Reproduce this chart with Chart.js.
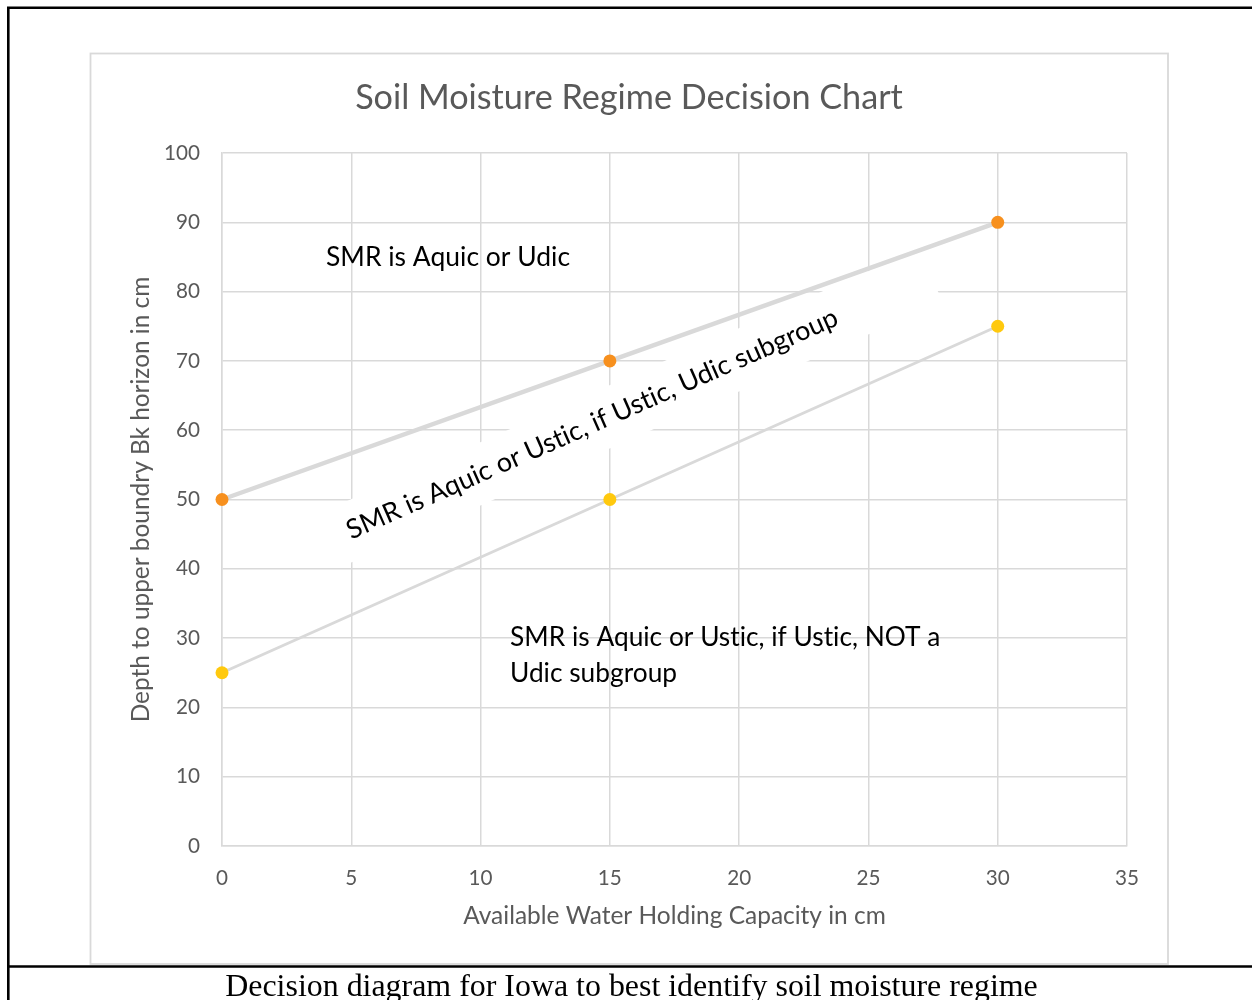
<!DOCTYPE html>
<html><head><meta charset="utf-8">
<script src="https://cdn.jsdelivr.net/npm/chart.js@4.4.1/dist/chart.umd.min.js"></script>
<style>html,body{margin:0;padding:0;background:#fff;}#wrap{width:1252px;height:1000px;position:relative;}canvas{display:block;}</style>
</head><body><div id="wrap"><canvas id="c" width="1252" height="1000"></canvas></div>
<script>
// ---------- data ----------
const xUpper = [0, 15, 30];
const yUpper = [50, 70, 90];
const xLower = [0, 15, 30];
const yLower = [25, 50, 75];
const xTicks = [0, 5, 10, 15, 20, 25, 30, 35];
const yTicks = [0, 10, 20, 30, 40, 50, 60, 70, 80, 90, 100];
const chartTitle = 'Soil Moisture Regime Decision Chart';
const xAxisTitle = 'Available Water Holding Capacity in cm';
const yAxisTitle = 'Depth to upper boundry Bk horizon in cm';
const captionText = 'Decision diagram for Iowa to best identify soil moisture regime';
const noteTop = ['SMR is Aquic or Udic'];
const noteMiddle = 'SMR is Aquic or Ustic, if Ustic, Udic subgroup';
const noteBottom = ['SMR is Aquic or Ustic, if Ustic, NOT a', 'Udic subgroup'];

// ---------- layout / style ----------
const FAM = 'Lato, "Open Sans", sans-serif';
const SERIF = '"Times New Roman", "Liberation Serif", serif';
const GREY_TXT = '#595959';
const GRID = '#d9d9d9';
const mctx = document.createElement('canvas').getContext('2d');
function fit(text, fam, target) { mctx.font = '100px ' + fam; return 100 * target / mctx.measureText(text).width; }
const titleSize = fit(chartTitle, FAM, 548);
const tickSize = fit('100', FAM, 36);
const axTitleSize = fit(xAxisTitle, FAM, 423);
const ayTitleSize = fit(yAxisTitle, FAM, 446);
const pos = {
  top: {x: 4.02, y: 83.7, size: fit(noteTop[0], FAM, 244)},
  bottom: {x: 11.14, y: 28.8, size: fit(noteBottom[0], FAM, 431), lineGap: 36},
  middle: {x: 5.0, y: 44.2, size: fit(noteMiddle, FAM, 535), angle: -23.8},
  band: {x: 15.77, y: 63.2, len: 658, h: 58, angle: -23.8}
};

const decor = {
  id: 'decor',
  beforeDraw(chart) {
    const c = chart.ctx;
    c.save();
    c.fillStyle = '#fff'; c.fillRect(0, 0, chart.width, chart.height);
    c.strokeStyle = GRID; c.lineWidth = 1.8;
    c.strokeRect(90.5, 53.5, 1077.5, 910.5);
    c.restore();
  },
  beforeDatasetsDraw(chart) {
    const c = chart.ctx, xs = chart.scales.x, ys = chart.scales.y;
    const b = pos.band;
    c.save();
    c.translate(xs.getPixelForValue(b.x), ys.getPixelForValue(b.y));
    c.rotate(b.angle * Math.PI / 180);
    c.fillStyle = '#fff';
    c.fillRect(-b.len / 2, -b.h / 2, b.len, b.h);
    c.restore();
  },
  afterDatasetsDraw(chart) {
    const c = chart.ctx, xs = chart.scales.x, ys = chart.scales.y;
    c.save();
    if ('letterSpacing' in c) c.letterSpacing = '0.01px';
    c.fillStyle = '#000';
    c.textAlign = 'left'; c.textBaseline = 'alphabetic';
    c.font = pos.top.size + 'px ' + FAM;
    noteTop.forEach((t, i) => c.fillText(t, xs.getPixelForValue(pos.top.x), ys.getPixelForValue(pos.top.y) + i * 36));
    c.font = pos.bottom.size + 'px ' + FAM;
    noteBottom.forEach((t, i) => c.fillText(t, xs.getPixelForValue(pos.bottom.x), ys.getPixelForValue(pos.bottom.y) + i * pos.bottom.lineGap));
    c.translate(xs.getPixelForValue(pos.middle.x), ys.getPixelForValue(pos.middle.y));
    c.rotate(pos.middle.angle * Math.PI / 180);
    c.font = pos.middle.size + 'px ' + FAM;
    c.fillText(noteMiddle, 0, 0);
    c.restore();
  },
  afterDraw(chart) {
    const c = chart.ctx;
    c.save();
    c.strokeStyle = '#000'; c.lineWidth = 2.6;
    c.beginPath();
    c.moveTo(7, 7.7); c.lineTo(1252, 7.7);
    c.moveTo(8.3, 6.4); c.lineTo(8.3, 1000);
    c.moveTo(7, 966.5); c.lineTo(1252, 966.5);
    c.stroke();
    const cs = fit(captionText, SERIF, 813);
    c.font = cs + 'px ' + SERIF;
    c.fillStyle = '#000'; c.textAlign = 'center'; c.textBaseline = 'alphabetic';
    c.fillText(captionText, 631.5, 996);
    c.restore();
  }
};

function ticksFrom(arr) { return s => { s.ticks = arr.map(v => ({value: v})); }; }

new Chart(document.getElementById('c'), {
  type: 'scatter',
  data: {
    datasets: [
      {data: xUpper.map((x, i) => ({x, y: yUpper[i]})), showLine: true, borderColor: GRID, borderWidth: 4.5, clip: false,
       pointBackgroundColor: '#F7901E', pointBorderColor: '#F7901E', pointRadius: 6.5, pointBorderWidth: 0},
      {data: xLower.map((x, i) => ({x, y: yLower[i]})), showLine: true, borderColor: GRID, borderWidth: 3, clip: false,
       pointBackgroundColor: '#FFC90E', pointBorderColor: '#FFC90E', pointRadius: 6.5, pointBorderWidth: 0}
    ]
  },
  options: {
    responsive: false, animation: false, devicePixelRatio: 1,
    layout: {padding: {left: 90, right: 84, top: 53, bottom: 54}},
    plugins: {
      legend: {display: false}, tooltip: {enabled: false},
      title: {display: true, text: chartTitle, color: GREY_TXT,
        font: {family: FAM, size: titleSize, weight: 'normal', lineHeight: 1.2},
        padding: {top: 45 - titleSize * 0.6, bottom: 100 - (45 - titleSize * 0.6) - titleSize * 1.2}}
    },
    scales: {
      x: {type: 'linear', min: 0, max: 35, afterBuildTicks: ticksFrom(xTicks),
        ticks: {color: GREY_TXT, font: {family: FAM, size: tickSize}, padding: 32 - tickSize * 0.6},
        grid: {color: GRID, lineWidth: 1.5, drawTicks: false},
        border: {color: GRID, width: 1.5},
        title: {display: true, text: xAxisTitle, color: GREY_TXT, font: {family: FAM, size: axTitleSize, lineHeight: 1.2},
          padding: {top: 0, bottom: 30 - axTitleSize * 0.6}},
        afterFit: s => { s.height = 100; }},
      y: {type: 'linear', min: 0, max: 100, afterBuildTicks: ticksFrom(yTicks),
        ticks: {color: GREY_TXT, font: {family: FAM, size: tickSize}, padding: 22},
        grid: {color: GRID, lineWidth: 1.5, drawTicks: false},
        border: {color: GRID, width: 1.5},
        title: {display: true, text: yAxisTitle, color: GREY_TXT, font: {family: FAM, size: ayTitleSize, lineHeight: 1.2},
          padding: {top: 51 - ayTitleSize * 0.6, bottom: 0}},
        afterFit: s => { s.width = 132; }},
      y2: {position: 'right', display: true, grid: {display: false, drawTicks: false}, ticks: {display: false},
        border: {display: false}, afterFit: s => { s.width = 41; }}
    }
  },
  plugins: [decor]
});
</script></body></html>
